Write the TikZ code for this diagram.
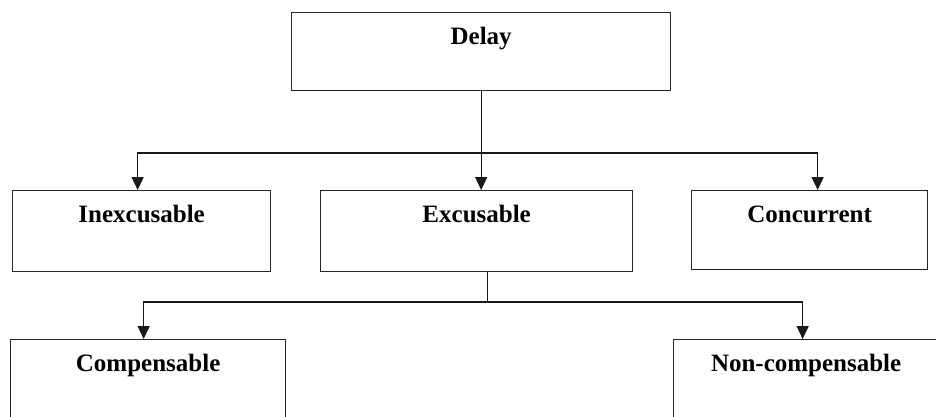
\documentclass[tikz,border=0pt]{standalone}
\usepackage{fontspec}
\setmainfont{Liberation Serif}
\usetikzlibrary{arrows.meta}
\tikzset{
    catbox/.style={draw=black!85, line width=1.3pt, inner sep=0pt, text height=32pt,
        font=\fontsize{25}{29}\selectfont\bfseries, anchor=north west},
    link/.style={draw=black!90, line width=1.3pt},
    arr/.style={link, -{Triangle[width=12pt,length=13pt]}}
}
\begin{document}
\begin{tikzpicture}[x=1pt, y=-1pt]
    \useasboundingbox (0, 0) rectangle (936, 416);
    \clip (0, 0) rectangle (936, 416);
    \fill[white] (0, 0) rectangle (936, 416);

    % 方框
    \node[catbox, minimum width=379pt, text depth=46pt] (delay) at (291, 12) {Delay};
    \node[catbox, minimum width=258pt, text depth=49pt] (inex) at (12, 190) {Inexcusable};
    \node[catbox, minimum width=312pt, text depth=49pt] (exc) at (320, 190) {Excusable};
    \node[catbox, minimum width=236pt, text depth=47pt] (conc) at (691, 190) {Concurrent};
    \node[catbox, minimum width=275pt, text depth=59pt] (comp) at (10, 339) {Compensable};
    \node[catbox, minimum width=265pt, text depth=59pt] (noncomp) at (673, 339) {Non-compensable};

    % 第一层连线
    \coordinate (topbus) at (delay.south |- 0, 153);
    \draw[link] (delay.south) -- (topbus);
    \draw[arr] (topbus) -| ([xshift=-4pt]inex.north);
    \draw[arr] (topbus) -- (topbus |- exc.north);
    \draw[arr] (topbus) -| ([xshift=8pt]conc.north);

    % 第二层连线
    \coordinate (lowbus) at ([xshift=11pt]exc.south |- 0, 302);
    \draw[link] ([xshift=11pt]exc.south) -- (lowbus);
    \draw[arr] (lowbus) -| ([xshift=-4.5pt]comp.north);
    \draw[arr] (lowbus) -| ([xshift=-3.5pt]noncomp.north);
\end{tikzpicture}
\end{document}
